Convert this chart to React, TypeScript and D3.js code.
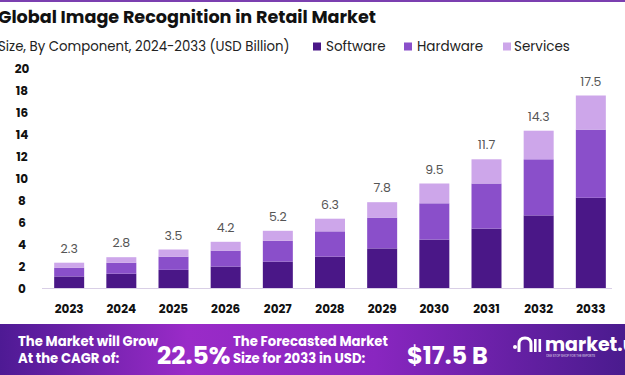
import React from "react";
import * as d3 from "d3";

const years = ["2023","2024","2025","2026","2027","2028","2029","2030","2031","2032","2033"];
const software = [1.05, 1.3, 1.65, 1.95, 2.4, 2.85, 3.6, 4.4, 5.4, 6.6, 8.2];
const hardware = [0.8, 1.0, 1.2, 1.45, 1.9, 2.3, 2.8, 3.3, 4.1, 5.1, 6.2];
const services = [0.45, 0.5, 0.65, 0.8, 0.9, 1.15, 1.4, 1.8, 2.2, 2.6, 3.1];
const totals = ["2.3","2.8","3.5","4.2","5.2","6.3","7.8","9.5","11.7","14.3","17.5"];
const yTicks = [0, 2, 4, 6, 8, 10, 12, 14, 16, 18, 20];
const seriesNames = ["Software", "Hardware", "Services"];
const colors = ["#4a1787", "#8a4fca", "#cda6ea"];

const W = 625, H = 375;
const FONT = "Poppins, 'Open Sans', 'DejaVu Sans', sans-serif";

export default function App() {
  const x = d3.scaleBand<string>().domain(years).range([32, 628]).paddingInner(0.425).paddingOuter(0.425);
  const y = d3.scaleLinear().domain([0, 20]).range([288, 68]);
  const rows = years.map((yr, i) => ({ year: yr, Software: software[i], Hardware: hardware[i], Services: services[i] }));
  const stack = d3.stack<any>().keys(seriesNames)(rows);
  const legendX = [313, 404, 503];
  const legendTextX = [326, 417, 514];

  return (
    <svg width={W} height={H} style={{ position: "absolute", left: 0, top: 0, display: "block" }} fontFamily={FONT}>
      <defs>
        <linearGradient id="bannerGrad" x1="0" x2="1" y1="0" y2="0">
          <stop offset="0" stopColor="#4e1a94" />
          <stop offset="0.3" stopColor="#9a2bc8" />
          <stop offset="0.6" stopColor="#8926c0" />
          <stop offset="1" stopColor="#4a1b8e" />
        </linearGradient>
      </defs>
      <rect x={0} y={0} width={W} height={H} fill="#ffffff" />
      <rect x={0} y={0} width={W} height={2} fill="#7b3fb0" />
      <text x={-2} y={23} fontSize={17.6} fontWeight={700} fill="#111">Global Image Recognition in Retail Market</text>
      <text x={-2} y={51} fontSize={13.3} fill="#222">Size, By Component, 2024-2033 (USD Billion)</text>

      {seriesNames.map((s, i) => (
        <g key={s}>
          <rect x={legendX[i]} y={42.5} width={8} height={8} fill={colors[i]} />
          <text x={legendTextX[i]} y={51} fontSize={13.5} fill="#222">{s}</text>
        </g>
      ))}

      {yTicks.map((t) => (
        <text key={t} x={22} y={y(t) + 4.5} fontSize={12} fontWeight={700} textAnchor="middle" fill="#111">{t}</text>
      ))}

      <line x1={42} x2={612} y1={288.5} y2={288.5} stroke="#d9cfe6" strokeWidth={1} />

      {stack.map((layer, si) => (
        <g key={si} fill={colors[si]}>
          {layer.map((d, i) => (
            <rect key={i} x={x(years[i])} y={y(d[1])} width={x.bandwidth()} height={y(d[0]) - y(d[1])} />
          ))}
        </g>
      ))}

      {years.map((yr, i) => {
        const top = stack[2][i][1];
        return (
          <text key={yr} x={(x(yr) as number) + x.bandwidth() / 2} y={y(top) - 10} fontSize={12.5} textAnchor="middle" fill="#555">{totals[i]}</text>
        );
      })}

      {years.map((yr) => (
        <text key={yr} x={(x(yr) as number) + x.bandwidth() / 2} y={313} fontSize={12} fontWeight={700} textAnchor="middle" fill="#111">{yr}</text>
      ))}

      <rect x={0} y={324} width={W} height={51} fill="url(#bannerGrad)" />
      <text x={18} y={346} fontSize={13.2} fontWeight={700} fill="#fff">The Market will Grow</text>
      <text x={18} y={363} fontSize={13.2} fontWeight={700} fill="#fff">At the CAGR of:</text>
      <text x={157} y={364} fontSize={25} fontWeight={700} fill="#fff">22.5%</text>
      <text x={233} y={346} fontSize={13.2} fontWeight={700} fill="#fff">The Forecasted Market</text>
      <text x={233} y={363} fontSize={13.2} fontWeight={700} fill="#fff">Size for 2033 in USD:</text>
      <text x={407} y={364} fontSize={24} fontWeight={700} fill="#fff">$17.5 B</text>
      <g fill="#fff">
        <circle cx={515} cy={347} r={2} />
        <path d="M519,352 L519,344 Q519,338 525,338 Q531,338 531,344 L531,352" fill="none" stroke="#fff" strokeWidth={3} />
        <rect x={534} y={339} width={2.6} height={13} />
        <rect x={538.5} y={339} width={2.6} height={13} />
      </g>
      <text x={545} y={351} fontSize={19} fontWeight={700} fill="#fff">market.us</text>
      <text x={546} y={357} fontSize={3} fill="#fff" opacity={0.8}>ONE STOP SHOP FOR THE REPORTS</text>
    </svg>
  );
}
